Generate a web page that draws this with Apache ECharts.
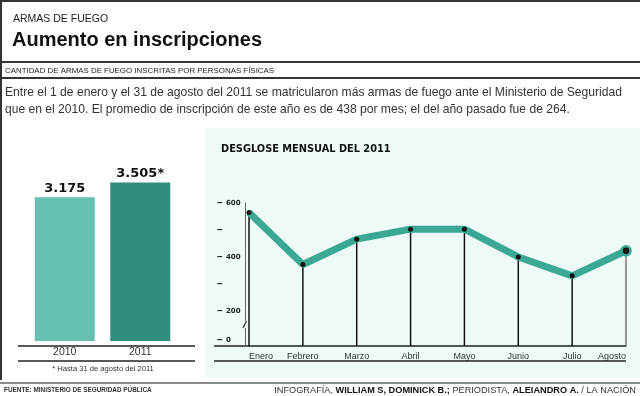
<!DOCTYPE html>
<html>
<head>
<meta charset="utf-8">
<script src="https://cdn.jsdelivr.net/npm/echarts@6/dist/echarts.min.js"></script>
<style>
html, body { margin: 0; padding: 0; background: #fff; }
#main { width: 640px; height: 396px; }
</style>
</head>
<body>
<div id="main"></div>
<script>
// totales anuales
var years = ['2010', '2011'];
var totals = [3175, 3505];
var totalNotes = ['', '*'];
// desglose mensual 2011
var months = ['Enero', 'Febrero', 'Marzo', 'Abril', 'Mayo', 'Junio', 'Julio', 'Agosto'];
var monthly = [565, 372, 466, 503, 503, 400, 330, 423];
// eje cortado: el "0" se dibuja justo debajo de 200
var yTicks = [90, 200, 300, 400, 500, 600];
var yTickLabels = ['0', '200', '', '400', '', '600'];
var yMin = 70;

var barColors = ['#66c1b2', '#2f8e7e'];
var teal = '#3ba894';
var ff = 'Liberation Sans, Arial, sans-serif';
var fb = 'DejaVu Sans, Liberation Sans, sans-serif';

var myChart = echarts.init(document.getElementById('main'));

function miles(v) {
	return String(v).replace(/\B(?=(\d{3})+(?!\d))/g, '.');
}

function hline(x1, x2, y, w, c) {
	return { type: 'line', shape: { x1: x1, y1: y, x2: x2, y2: y }, style: { stroke: c, lineWidth: w } };
}
function txt(x, y, s, font, color, align) {
	return { type: 'text', x: x, y: y, style: { text: s, font: font, fill: color, textAlign: align || 'left', textVerticalAlign: 'middle' } };
}

var option = {
	backgroundColor: '#fff',
	animation: false,
	graphic: [
		{ type: 'rect', z: -10, shape: { x: 205, y: 128, width: 435, height: 250 }, style: { fill: '#eefaf8' } },
		hline(0, 640, 1, 2, '#333'),
		{ type: 'line', shape: { x1: 1, y1: 0, x2: 1, y2: 380 }, style: { stroke: '#333', lineWidth: 2 } },
		hline(2, 640, 62, 2, '#333'),
		hline(2, 640, 78, 2, '#333'),
		hline(0, 640, 383, 2, '#8a8a8a'),
		txt(13, 19, 'ARMAS DE FUEGO', '10.5px ' + ff, '#222'),
		txt(12, 40, 'Aumento en inscripciones', 'bold 20px ' + ff, '#111'),
		txt(5, 71, 'CANTIDAD DE ARMAS DE FUEGO INSCRITAS POR PERSONAS FÍSICAS', '7.9px ' + ff, '#222'),
		txt(5, 93, 'Entre el 1 de enero y el 31 de agosto del 2011 se matricularon más armas de fuego ante el Ministerio de Seguridad', '12.1px ' + ff, '#333'),
		txt(5, 110, 'que en el 2010. El promedio de inscripción de este año es de 438 por mes; el del año pasado fue de 264.', '12.1px ' + ff, '#333'),
		// barras
		hline(18, 195, 346, 1.5, '#222'),
		hline(18, 195, 361, 1.5, '#222'),
		txt(103, 369, '* Hasta 31 de agosto del 2011', '7.6px ' + ff, '#333', 'center'),
		// lineas
		txt(221, 149, 'DESGLOSE MENSUAL DEL 2011', 'bold 9.8px ' + fb, '#111'),
		hline(214, 249, 346, 1.5, '#222'),
		hline(214, 626, 361, 1.5, '#222'),
		{ type: 'rect', z: 10, shape: { x: 243, y: 321, width: 4, height: 7 }, style: { fill: '#eefaf8' } },
		{ type: 'line', z: 11, shape: { x1: 243, y1: 328, x2: 246.5, y2: 321 }, style: { stroke: '#333', lineWidth: 1.2 } },
		// pie
		txt(4, 390, 'FUENTE: MINISTERIO DE SEGURIDAD PÚBLICA', 'bold 6.4px ' + ff, '#333'),
		{
			type: 'text', x: 636, y: 390,
			style: {
				text: '{n|INFOGRAFÍA, }{b|WILLIAM S, DOMINICK B.;}{n| PERIODISTA, }{b|ALEIANDRO A.}{n| / LA NACIÓN}',
				textAlign: 'right', textVerticalAlign: 'middle',
				rich: {
					n: { fontSize: 9.2, fontFamily: ff, fill: '#333' },
					b: { fontSize: 9.2, fontFamily: ff, fontWeight: 'bold', fill: '#111' }
				}
			}
		}
	],
	grid: [
		{ left: 27, width: 151, top: 160, height: 181 },
		{ left: 249, right: 14, top: 203, bottom: 50 }
	],
	xAxis: [{
		gridIndex: 0,
		type: 'category',
		data: years,
		axisLine: { show: false },
		axisTick: { show: false },
		axisLabel: { fontSize: 10.5, fontFamily: ff, color: '#333', margin: 6 }
	}, {
		gridIndex: 1,
		type: 'category',
		data: months,
		boundaryGap: false,
		axisLine: { onZero: false, lineStyle: { color: '#222', width: 1.5 } },
		axisTick: { show: false },
		axisLabel: {
			fontSize: 9, fontFamily: ff, color: '#333', margin: 6,
			alignMinLabel: 'left', alignMaxLabel: 'right'
		}
	}],
	yAxis: [{
		gridIndex: 0,
		type: 'value',
		min: 0,
		max: 4000,
		show: false
	}, {
		gridIndex: 1,
		type: 'value',
		min: yMin,
		max: 600,
		offset: 4,
		splitLine: { show: false },
		axisTick: { show: false },
		axisLine: { show: true, lineStyle: { color: '#666', width: 1 } },
		axisLabel: {
			customValues: yTicks,
			align: 'left',
			margin: 28,
			color: '#222',
			formatter: function(v) {
				var t = yTickLabels[yTicks.indexOf(v)];
				return t ? '{d|–} {v|' + t + '}' : '{d|–}';
			},
			rich: {
				d: { fontSize: 10, fontWeight: 'bold', fontFamily: ff, color: '#222' },
				v: { fontSize: 7, fontWeight: 'bold', fontFamily: fb, color: '#222' }
			}
		}
	}],
	series: [{
		type: 'bar',
		xAxisIndex: 0,
		yAxisIndex: 0,
		barWidth: 60,
		data: totals,
		itemStyle: {
			color: function(p) { return barColors[p.dataIndex]; }
		},
		label: {
			show: true,
			position: 'top',
			distance: 2,
			fontSize: 13,
			fontWeight: 'bold',
			fontFamily: fb,
			color: '#111',
			formatter: function(p) { return miles(p.value) + totalNotes[p.dataIndex]; }
		},
		emphasis: { disabled: true }
	}, {
		// lineas de caida hasta el eje
		type: 'custom',
		xAxisIndex: 1,
		yAxisIndex: 1,
		data: monthly.map(function(v, i) { return [i, v]; }),
		encode: { x: 0, y: 1 },
		renderItem: function(params, api) {
			var top = api.coord([api.value(0), api.value(1)]);
			var bottom = api.coord([api.value(0), yMin]);
			var last = params.dataIndex === monthly.length - 1;
			return {
				type: 'line',
				shape: { x1: top[0], y1: top[1], x2: bottom[0], y2: bottom[1] },
				style: { stroke: last ? '#777' : '#111', lineWidth: 1.5 }
			};
		},
		silent: true
	}, {
		type: 'line',
		xAxisIndex: 1,
		yAxisIndex: 1,
		data: monthly.map(function(v, i) {
			if (i === monthly.length - 1) {
				return { value: v, symbolSize: 9, itemStyle: { color: '#111', borderColor: teal, borderWidth: 2.5 } };
			}
			return v;
		}),
		symbol: 'circle',
		symbolSize: 5,
		showAllSymbol: true,
		lineStyle: { color: teal, width: 7 },
		itemStyle: { color: '#111' },
		emphasis: { disabled: true },
		clip: false,
		z: 3
	}]
};

myChart.setOption(option);
</script>
</body>
</html>
